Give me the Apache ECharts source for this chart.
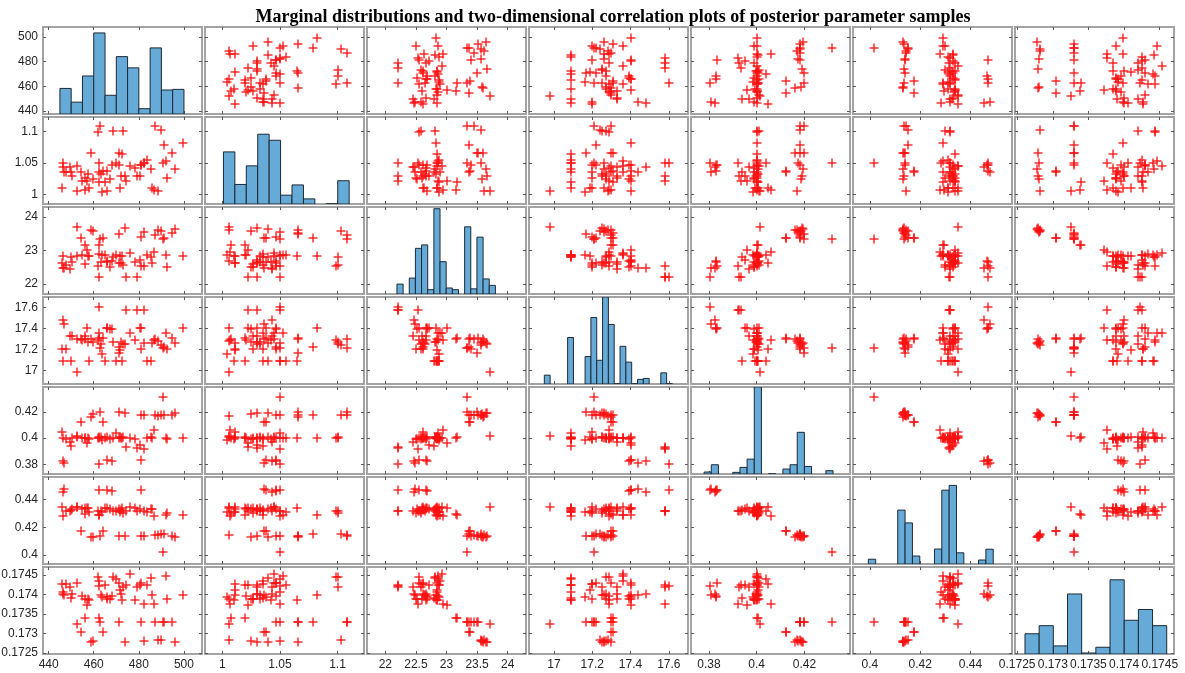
<!DOCTYPE html>
<html><head><meta charset="utf-8">
<script src="https://cdn.jsdelivr.net/npm/echarts@6/dist/echarts.min.js"></script>
<style>html,body{margin:0;padding:0;background:#fff}#c{width:1185px;height:673px}</style>
</head><body><div id="c"></div>
<script>
// ---- sample values (one entry per posterior sample, same order in every array) ----
const p1 = [446.3,446.9,462.5,465.8,468.3,481.0,
  454.4,458.7,459.5,462.8,464.0,471.0,474.0,481.0,482.3,487.0,488.5,490.0,491.0,494.5,496.0,
  490.8,452.4,462.4,456.3,
  445.8,446.2,447.5,449.5,449.7,450.3,452.7,455.0,456.0,457.0,457.5,458.0,461.7,462.2,463.0,463.6,465.2,466.0,467.0,468.6,470.0,471.0,471.5,472.0,472.5,473.0,474.5,476.0,478.5,479.2,480.7,482.5,483.8,485.3,486.0,486.5,492.2,492.5,499.4];
const p2 = [1.043,1.036,1.050,1.038,1.047,1.047,
  1.036,1.066,1.025,1.108,1.038,1.066,1.030,1.047,1.050,1.108,1.006,1.103,1.079,1.066,1.040,
  1.050,1.006,1.020,1.0075,
  1.011,1.050,1.035,1.043,1.035,1.030,1.045,1.021,1.027,1.022,1.033,1.010,1.099,1.035,1.033,1.004,1.020,1.006,1.025,1.100,1.050,1.047,1.011,1.030,1.065,1.100,1.022,1.045,1.042,1.030,1.030,1.050,1.055,1.040,1.011,1.007,1.053,1.027,1.082];
const p3 = [22.47,22.49,22.20,22.66,22.68,22.55,
  23.37,23.60,23.58,23.34,23.38,23.50,23.66,23.40,23.56,23.45,23.62,23.57,23.36,23.52,23.64,
  23.34,23.71,23.17,23.15,
  22.62,22.84,22.58,22.45,22.80,22.66,22.85,22.86,22.60,23.01,22.83,22.84,22.55,22.90,22.65,22.87,22.88,22.68,22.52,22.82,22.86,22.62,22.85,22.62,22.85,22.58,22.20,22.92,22.66,22.21,22.72,22.54,22.88,22.82,22.64,22.95,22.86,22.50,22.83];
const p4 = [17.48,17.44,17.60,17.40,17.39,17.40,
  17.30,17.30,17.27,17.21,17.31,17.17,17.25,17.20,17.26,17.30,17.28,17.24,17.22,17.31,17.26,
  17.21,16.98,17.31,17.30,
  17.20,17.09,17.20,17.33,17.09,17.33,17.30,17.29,17.33,17.40,17.27,17.09,17.29,17.36,17.25,17.16,17.09,17.40,17.39,17.27,17.09,17.22,17.19,17.27,17.09,17.25,17.58,17.36,17.29,17.58,17.40,17.58,17.09,17.09,17.26,17.29,17.36,17.20,17.40];
const p5 = [0.3825,0.3810,0.3805,0.3830,0.3828,0.3832,
  0.4125,0.4160,0.4185,0.4200,0.4125,0.4200,0.4190,0.4180,0.4175,0.4180,0.4170,0.4180,0.4180,0.4180,0.4195,
  0.4317,0.4016,0.4005,0.4000,
  0.4048,0.4000,0.3990,0.3970,0.3940,0.4000,0.4010,0.4000,0.4000,0.3960,0.4000,0.3995,0.4002,0.4000,0.4005,0.3985,0.4000,0.4010,0.3990,0.4000,0.4040,0.4000,0.4005,0.3998,0.4002,0.4010,0.3935,0.4000,0.3990,0.3925,0.3950,0.3920,0.4000,0.4005,0.4000,0.4060,0.4000,0.3990,0.4000];
const p6 = [0.4455,0.4476,0.4470,0.4470,0.4465,0.4470,
  0.4175,0.4131,0.4131,0.4135,0.4175,0.4138,0.4135,0.4140,0.4140,0.4145,0.4145,0.4150,0.4150,0.4135,0.4130,
  0.4018,0.4350,0.4290,0.4295,
  0.4349,0.4282,0.4320,0.4320,0.4325,0.4330,0.4350,0.4335,0.4340,0.4340,0.4340,0.4310,0.4320,0.4290,0.4320,0.4310,0.4340,0.4340,0.4330,0.4320,0.4320,0.4330,0.4310,0.4325,0.4340,0.4300,0.4320,0.4350,0.4340,0.4315,0.4330,0.4320,0.4310,0.4330,0.4330,0.4280,0.4290,0.4300,0.4290];
const p7 = [0.17400,0.17398,0.17422,0.17392,0.17395,0.17430,
  0.17304,0.17279,0.17281,0.17330,0.17304,0.17330,0.17279,0.17330,0.17280,0.17330,0.17282,0.17282,0.17330,0.17330,0.17278,
  0.17330,0.17325,0.17340,0.17338,
  0.17426,0.17405,0.17426,0.17420,0.17390,0.17400,0.17430,0.17395,0.17389,0.17372,0.17389,0.17385,0.17444,0.17434,0.17398,0.17392,0.17425,0.17389,0.17389,0.17444,0.17440,0.17430,0.17410,0.17400,0.17385,0.17420,0.17425,0.17453,0.17385,0.17420,0.17425,0.17376,0.17425,0.17442,0.17398,0.17376,0.17446,0.17389,0.17398];

// ---- marginal histograms (bin start, bin width, bar heights) ----
const histStart = [445, 1.001, 22.19, 16.95, 0.3780, 0.3994, 0.17261];
const histWidth = [5, 0.00992, 0.1006, 0.0304, 0.0030, 0.00292, 0.0001988];
const hist1 = [4.1,1.9,6.1,13.0,3.0,9.2,7.4,0.85,10.6,3.85,3.95];
const hist2 = [11.2,4.2,8.2,15.0,13.7,1.9,4.1,1.1,0,0.05,5.0];
const hist3 = [2.3,0,3.7,10.6,11.4,1.0,19.8,7.5,1.4,1.0,0,15.6,1.2,13.2,3.5,2.0];
const hist4 = [1.9,0,0,0,10,0,0,5.9,14.3,5.1,18.7,12.8,0.05,8.1,4.7,0.05,1.0,1.2,0,0,2.4,0.05];
const hist5 = [1.2,5.6,0,0,1.0,4.0,9.0,52.6,0,0.1,0,3.0,5.6,25.2,4.6,0,0,2.0];
const hist6 = [1.2,0,0,0,13.5,10.3,2.0,0,0,3.75,18.5,19.7,2.8,0,0,1.0,3.7];
const hist7 = [3.0,4.2,1.2,8.9,0.15,1.0,11.0,5.0,6.6,4.2];
const histTop = [13.95, 18.7, 20.2, 18.7, 52.6, 21.8, 12.9];

// ---- axes ----
const axisRanges = [[437.5,508],[0.985,1.123],[21.7,24.3],[16.87,17.70],[0.3725,0.4391],[0.3933,0.4565],[0.17247,0.17470]];
const xTicks = [[440,460,480,500],[1,1.05,1.1],[22,22.5,23,23.5,24],[17,17.2,17.4,17.6],[0.38,0.4,0.42],[0.4,0.42,0.44],[0.1725,0.173,0.1735,0.174,0.1745]];
const yTicks = [[440,460,480,500],[1,1.05,1.1],[22,23,24],[17,17.2,17.4,17.6],[0.38,0.4,0.42],[0.4,0.42,0.44],[0.1725,0.173,0.1735,0.174,0.1745]];
const titleText = 'Marginal distributions and two-dimensional correlation plots of posterior parameter samples';

const P = [p1,p2,p3,p4,p5,p6,p7];
const H = [hist1,hist2,hist3,hist4,hist5,hist6,hist7];
P.forEach((a,i)=>{ if(a.length!==p1.length) throw new Error('length mismatch p'+(i+1)+': '+a.length); });

const L0=43, T0=27, DX=162, DY=90, W=159, HH=87;
const labelStyle = {fontSize:12, color:'#262626', fontFamily:'Liberation Sans, Arial, sans-serif'};
const tickStyle = {show:true, inside:true, length:3, lineStyle:{color:'#5a5a5a', width:1}};
const PLUS = 4.5;
const grids=[], xAxes=[], yAxes=[], series=[];
const n = P.length;
for (let r=0;r<n;r++){
  for (let c=0;c<n;c++){
    const g = grids.length;
    grids.push({left:L0+c*DX, top:T0+r*DY, width:W, height:HH, show:true, borderColor:'#a3a3a3', borderWidth:2, backgroundColor:'#fff', containLabel:false, outerBoundsMode:'none'});
    const xr = axisRanges[c], yr = axisRanges[r];
    xAxes.push({gridIndex:g, type:'value', position:'bottom', min:xr[0], max:xr[1], axisLine:{show:false}, splitLine:{show:false},
      axisTick:Object.assign({customValues:xTicks[c]}, tickStyle),
      axisLabel:Object.assign({show:r===n-1, customValues:xTicks[c], margin:5, formatter:v=>String(v)}, labelStyle)});
    const xi = xAxes.length-1;
    xAxes.push({gridIndex:g, type:'value', position:'top', min:xr[0], max:xr[1], axisLine:{show:false}, splitLine:{show:false},
      axisTick:Object.assign({customValues:xTicks[c]}, tickStyle), axisLabel:{show:false, customValues:xTicks[c]}});
    yAxes.push({gridIndex:g, type:'value', position:'left', min:yr[0], max:yr[1], axisLine:{show:false}, splitLine:{show:false},
      axisTick:Object.assign({customValues:yTicks[r]}, tickStyle),
      axisLabel:Object.assign({show:c===0, customValues:yTicks[r], margin:5, formatter:v=>String(v)}, labelStyle)});
    const yi = yAxes.length-1;
    yAxes.push({gridIndex:g, type:'value', position:'right', min:yr[0], max:yr[1], axisLine:{show:false}, splitLine:{show:false},
      axisTick:Object.assign({customValues:yTicks[r]}, tickStyle), axisLabel:{show:false, customValues:yTicks[r]}});
    if (r===c){
      yAxes.push({gridIndex:g, type:'value', min:0, max:histTop[r], show:false, splitLine:{show:false}});
      const ci = yAxes.length-1;
      const data = H[r].map((h,k)=>[histStart[r]+k*histWidth[r], histStart[r]+(k+1)*histWidth[r], h]);
      series.push({type:'custom', xAxisIndex:xi, yAxisIndex:ci, clip:true, silent:true, data,
        dimensions:['x0','x1','h'], encode:{x:[0,1], y:2},
        renderItem:(params, api)=>{
          const h = api.value(2);
          if (!h) return null;
          const a = api.coord([api.value(0), 0]);
          const b = api.coord([api.value(1), h]);
          return {type:'rect', shape:{x:a[0], y:b[1], width:b[0]-a[0], height:a[1]-b[1]},
            style:{fill:'#66aad7', stroke:'#1e2a36', lineWidth:1}};
        }});
    } else {
      const data = P[c].map((v,k)=>[v, P[r][k]]);
      series.push({type:'custom', xAxisIndex:xi, yAxisIndex:yi, data, silent:true, clip:false,
        dimensions:['x','y'], encode:{x:0, y:1},
        renderItem:(params, api)=>{
          const p = api.coord([api.value(0), api.value(1)]);
          const x = Math.round(p[0]), y = Math.round(p[1]);
          const st = {stroke:'#ff1010', lineWidth:1.3};
          return {type:'group', children:[
            {type:'line', shape:{x1:x-PLUS, y1:y, x2:x+PLUS, y2:y}, style:st},
            {type:'line', shape:{x1:x, y1:y-PLUS, x2:x, y2:y+PLUS}, style:st}
          ]};
        }});
    }
  }
}

const chart = echarts.init(document.getElementById('c'), null, {renderer:'canvas'});
chart.setOption({
  animation:false,
  backgroundColor:'#fff',
  title:{text:titleText, left:608, top:3, textAlign:'center',
    textStyle:{fontFamily:'Liberation Serif, Times New Roman, serif', fontWeight:'bold', fontSize:18, color:'#000'}},
  grid:grids, xAxis:xAxes, yAxis:yAxes, series
});
</script></body></html>
